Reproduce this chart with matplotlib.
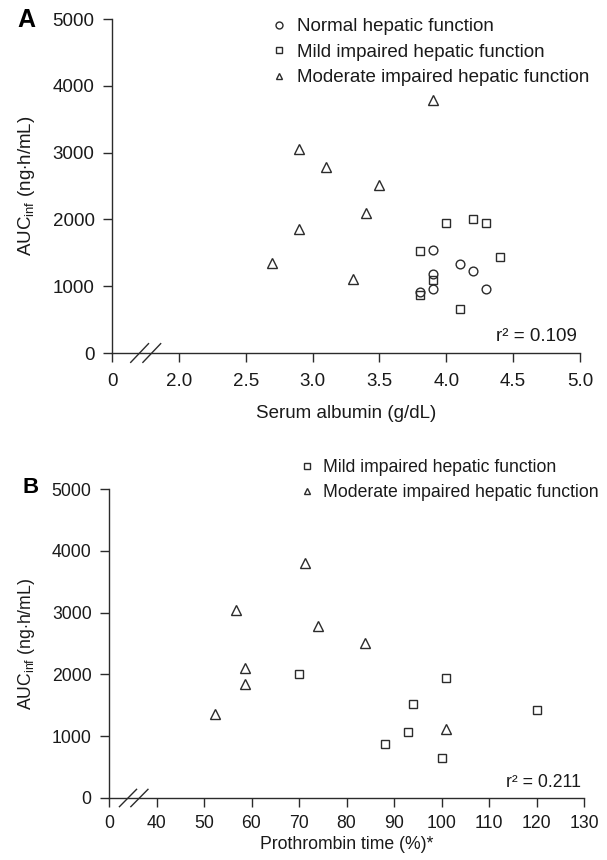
import numpy as np
import matplotlib
matplotlib.use("Agg")
import matplotlib.pyplot as plt
from matplotlib.lines import Line2D

plt.rcParams["font.family"] = ["Liberation Sans", "DejaVu Sans"]
plt.rcParams["mathtext.fontset"] = "custom"
plt.rcParams["mathtext.rm"] = "Liberation Sans"

INK = "#2b2b2b"
TXT = "#1a1a1a"

# Panel A: serum albumin (g/dL) vs AUCinf (ng*h/mL)
alb_normal = [3.8, 3.9, 3.9, 3.9, 4.1, 4.2, 4.3]
auc_normal = [915, 1545, 1180, 960, 1335, 1225, 960]
alb_mild = [3.8, 3.8, 3.9, 4.0, 4.1, 4.2, 4.3, 4.4]
auc_mild = [1525, 865, 1090, 1950, 665, 2005, 1950, 1430]
alb_mod = [2.7, 2.9, 2.9, 3.1, 3.3, 3.4, 3.5, 3.9]
auc_mod = [1353, 3048, 1850, 2787, 1115, 2100, 2516, 3794]

# Panel B: prothrombin time (%) vs AUCinf
pt_mild = [70, 88, 93, 94, 100, 101, 120]
pt_auc_mild = [2006, 868, 1074, 1518, 651, 1947, 1432]
pt_mod = [52.3, 56.8, 58.7, 58.7, 71.3, 74.0, 83.9, 101]
pt_auc_mod = [1356, 3048, 2099, 1849, 3796, 2782, 2516, 1112]

xticks_a = [1.5, 2.0, 2.5, 3.0, 3.5, 4.0, 4.5, 5.0]
xlabels_a = ["0", "2.0", "2.5", "3.0", "3.5", "4.0", "4.5", "5.0"]
xticks_b = [30, 40, 50, 60, 70, 80, 90, 100, 110, 120, 130]
xlabels_b = ["0"] + [str(v) for v in xticks_b[1:]]
yticks = [0, 1000, 2000, 3000, 4000, 5000]

labels = ["Normal hepatic function", "Mild impaired hepatic function",
          "Moderate impaired hepatic function"]
ylabel = r"AUC$_{\mathregular{inf}}$ (ng$\cdot$h/mL)"

W, H = 607, 860
fig = plt.figure(figsize=(W / 100, H / 100), dpi=100)


def px_axes(left, top, right, bottom):
    return fig.add_axes([left / W, 1 - bottom / H, (right - left) / W, (bottom - top) / H])


def style(ax, fs, xpad):
    for s in ["top", "right"]:
        ax.spines[s].set_visible(False)
    for s in ["left", "bottom"]:
        ax.spines[s].set_color(INK)
        ax.spines[s].set_linewidth(1.0)
    ax.tick_params(direction="out", length=6.5, width=1.0, color=INK,
                   labelsize=fs, labelcolor=TXT)
    ax.tick_params(axis="x", pad=xpad)
    ax.tick_params(axis="y", pad=6)
    ax.set_ylim(0, 5000)
    ax.set_yticks(yticks)


def scatter(ax, x, y, marker, ms):
    return ax.plot(x, y, linestyle="none", marker=marker, ms=ms, mfc="none",
                   mec=INK, mew=1.0, clip_on=False)[0]


def axis_break(ax, xs, hw, hh):
    for xc in xs:
        ax.plot([xc - hw, xc + hw], [-hh, hh], color=INK, lw=1.0,
                transform=ax.transAxes, clip_on=False)


legend_handles = [Line2D([], [], ls="none", marker=m, ms=5, mfc="none", mec=INK, mew=1.0)
                  for m in ["o", "s", "^"]]

# ---- Panel A
axA = px_axes(112, 19, 580, 353)
style(axA, 13.5, 8)
scatter(axA, alb_normal, auc_normal, "o", 6.3)
scatter(axA, alb_mild, auc_mild, "s", 6.3)
scatter(axA, alb_mod, auc_mod, "^", 6.8)
axA.set_xlim(1.5, 5.0)
axA.set_xticks(xticks_a)
axA.set_xticklabels(xlabels_a)
axA.set_xlabel("Serum albumin (g/dL)", fontsize=13.5, color=TXT)
axA.xaxis.set_label_coords(0.5, -0.155)
axA.set_ylabel(ylabel, fontsize=13.5, color=TXT)
axA.yaxis.set_label_coords(-0.16, 0.5)
axis_break(axA, [0.059, 0.085], 0.019, 0.028)
axA.text(0.994, 0.036, "r² = 0.109", transform=axA.transAxes, ha="right",
         va="baseline", fontsize=13.5, color=TXT)
fig.legend(legend_handles, labels, loc="upper left", bbox_to_anchor=(269 / W, 1 - 18 / H),
           frameon=False, fontsize=13.5, handlelength=1.1, handletextpad=0.4,
           labelspacing=0.45, borderpad=0, borderaxespad=0, labelcolor=TXT)
fig.text(17 / W, 1 - 27 / H, "A", fontsize=18, weight="bold", va="baseline")

# ---- Panel B
axB = px_axes(109, 489, 584, 798)
style(axB, 12.7, 6)
scatter(axB, pt_mild, pt_auc_mild, "s", 6.3)
scatter(axB, pt_mod, pt_auc_mod, "^", 6.8)
axB.set_xlim(30, 130)
axB.set_xticks(xticks_b)
axB.set_xticklabels(xlabels_b)
axB.set_xlabel("Prothrombin time (%)*", fontsize=12.7, color=TXT)
axB.xaxis.set_label_coords(0.5, -0.122)
axB.set_ylabel(ylabel, fontsize=12.7, color=TXT)
axB.yaxis.set_label_coords(-0.152, 0.5)
axis_break(axB, [0.040, 0.064], 0.018, 0.028)
axB.text(0.994, 0.036, "r² = 0.211", transform=axB.transAxes, ha="right",
         va="baseline", fontsize=12.7, color=TXT)
fig.legend(legend_handles[1:], labels[1:], loc="upper left",
           bbox_to_anchor=(297 / W, 1 - 459 / H),
           frameon=False, fontsize=12.7, handlelength=1.1, handletextpad=0.4,
           labelspacing=0.45, borderpad=0, borderaxespad=0, labelcolor=TXT)
fig.text(23 / W, 1 - 493 / H, "B", fontsize=16, weight="bold", va="baseline")

fig.savefig("out.png", dpi=100)
